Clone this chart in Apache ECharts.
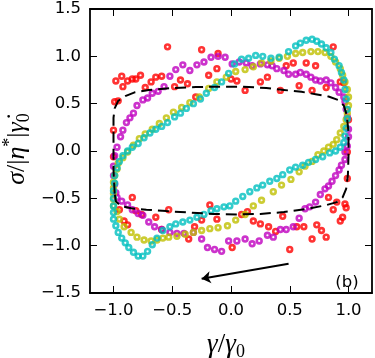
<!DOCTYPE html>
<html>
<head>
<meta charset="utf-8">
<script src="https://cdn.jsdelivr.net/npm/echarts@6/dist/echarts.min.js"></script>
<style>
html, body { margin: 0; padding: 0; background: #fff; }
#chart { width: 375px; height: 358px; }
</style>
</head>
<body>
<div id="chart"></div>
<script>
// tick labels
var xTicks = [-1.0, -0.5, 0.0, 0.5, 1.0];
var yTicks = [-1.5, -1.0, -0.5, 0.0, 0.5, 1.0, 1.5];

// red points (noisy loop)
var redPts = [
  [-1.0,-0.06],[-1.0,0.22],[-0.99,0.52],[-0.96,0.53],[-0.98,0.74],[-0.93,0.79],[-0.92,0.68],[-0.88,0.74],
  [-0.84,0.76],[-0.81,0.76],[-0.77,0.80],[-0.73,0.67],[-0.68,0.73],[-0.64,0.78],[-0.59,0.79],[-0.54,1.10],
  [-0.48,0.68],[-0.43,0.75],[-0.37,0.71],[-0.30,0.57],[-0.25,1.07],[-0.19,0.80],[-0.12,0.87],[-0.11,1.03],
  [0.0,0.76],[0.05,0.74],[0.12,0.64],[0.25,0.73],[0.31,0.78],[0.42,0.64],[0.47,0.90],[0.53,0.93],
  [0.58,0.69],[0.64,0.93],[0.69,0.64],[0.72,0.90],[0.81,0.67],[0.87,1.10],[0.93,0.73],[0.96,0.72],
  [1.0,0.33],[0.99,-0.01],[0.99,-0.29],[0.98,-0.60],[0.97,-0.56],[0.95,-0.70],[0.93,-0.74],[0.90,-0.54],
  [0.87,-0.62],[0.83,-0.49],[0.81,-0.91],[0.77,-0.84],[0.73,-0.78],[0.69,-0.93],[0.62,-0.80],[0.56,-0.80],
  [0.50,-1.04],[0.44,-0.69],[0.38,-0.85],[0.32,-0.80],[0.25,-0.77],[0.19,-0.74],[0.14,-0.64],[0.09,-0.67],
  [0.01,-1.02],[-0.12,-0.72],[-0.18,-0.57],[-0.25,-0.73],[-0.31,-0.80],[-0.36,-0.93],[-0.53,-0.62],[-0.59,-0.83],
  [-0.64,-0.70],[-0.76,-0.67],[-0.81,-0.63],[-0.84,-0.49],[-0.88,-0.78],[-0.91,-0.74],[-0.95,-0.62]
];

// magenta points
var magentaPts = [
  [-0.99,-0.05],[-0.97,0.04],[-0.94,0.15],[-0.92,0.22],[-0.89,0.30],[-0.86,0.35],[-0.83,0.40],[-0.80,0.48],
  [-0.75,0.54],[-0.71,0.56],[-0.67,0.61],[-0.62,0.63],[-0.57,0.68],[-0.52,0.79],[-0.47,0.86],[-0.41,0.91],
  [-0.35,0.85],[-0.29,0.91],[-0.23,0.94],[-0.17,0.99],[-0.11,1.00],[-0.05,0.99],[0.01,0.92],[0.07,0.94],
  [0.13,0.93],[0.18,0.90],[0.25,0.92],[0.31,0.91],[0.35,0.90],[0.39,0.87],[0.45,0.85],[0.49,0.81],
  [0.55,0.81],[0.59,0.83],[0.64,0.81],[0.68,0.78],[0.72,0.75],[0.76,0.74],[0.81,0.75],[0.85,0.72],
  [0.89,0.67],[0.92,0.62],[0.96,0.57],[0.97,0.52],[0.98,0.44],[0.99,0.36],[1.0,0.23],[1.0,0.15],
  [0.99,0.05],[0.97,-0.01],[0.97,-0.09],[0.94,-0.15],[0.92,-0.20],[0.89,-0.26],[0.86,-0.32],[0.83,-0.37],
  [0.80,-0.40],[0.76,-0.46],[0.72,-0.54],[0.67,-0.59],[0.63,-0.61],[0.58,-0.71],[0.53,-0.80],[0.47,-0.83],
  [0.42,-0.83],[0.36,-0.91],[0.31,-0.89],[0.24,-0.95],[0.18,-0.98],[0.12,-0.93],[0.05,-0.95],[-0.02,-0.95],
  [-0.08,-1.06],[-0.14,-1.04],[-0.20,-1.02],[-0.25,-0.93],[-0.32,-0.86],[-0.40,-0.87],[-0.46,-0.87],[-0.52,-0.86],
  [-0.59,-0.83],[-0.65,-0.80],[-0.70,-0.75],[-0.75,-0.68],[-0.79,-0.66],[-0.84,-0.62],[-0.88,-0.57],[-0.93,-0.53],
  [-0.97,-0.49],[-0.98,-0.44],[-0.99,-0.35],[-1.0,-0.26],[-1.0,-0.16]
];

// cyan points
var cyanPts = [
  [-1.0,-0.72],[-1.0,-0.65],[-1.0,-0.58],[-1.0,-0.50],[-1.0,-0.42],[-0.99,-0.34],[-0.99,-0.26],[-0.97,-0.18],
  [-0.95,-0.11],[-0.92,-0.05],[-0.88,0.0],[-0.84,0.04],[-0.79,0.08],[-0.74,0.14],[-0.69,0.19],[-0.64,0.23],
  [-0.59,0.26],[-0.54,0.30],[-0.48,0.36],[-0.43,0.40],[-0.38,0.45],[-0.32,0.50],[-0.26,0.55],[-0.21,0.61],
  [-0.14,0.67],[-0.08,0.73],[-0.02,0.82],[0.03,0.92],[0.09,0.97],[0.15,0.98],[0.21,1.01],[0.27,1.00],
  [0.34,0.98],[0.41,0.99],[0.49,1.05],[0.55,1.11],[0.59,1.14],[0.64,1.17],[0.69,1.18],[0.73,1.16],
  [0.77,1.13],[0.81,1.09],[0.85,1.04],[0.88,0.97],[0.92,0.90],[0.94,0.83],[0.96,0.75],[0.97,0.65],
  [0.98,0.55],[0.99,0.44],[0.99,0.34],[0.98,0.24],[0.97,0.16],[0.96,0.09],[0.93,0.04],[0.89,0.0],
  [0.84,-0.02],[0.78,-0.06],[0.72,-0.09],[0.66,-0.12],[0.61,-0.15],[0.55,-0.17],[0.50,-0.20],[0.44,-0.25],
  [0.39,-0.29],[0.33,-0.32],[0.27,-0.36],[0.22,-0.39],[0.16,-0.43],[0.10,-0.48],[0.04,-0.53],[-0.01,-0.58],
  [-0.06,-0.59],[-0.12,-0.61],[-0.17,-0.63],[-0.23,-0.67],[-0.29,-0.70],[-0.35,-0.73],[-0.41,-0.75],[-0.47,-0.77],
  [-0.52,-0.80],[-0.58,-0.84],[-0.63,-0.92],[-0.67,-0.99],[-0.71,-1.06],[-0.75,-1.11],[-0.79,-1.11],[-0.83,-1.07],
  [-0.87,-1.02],[-0.90,-0.97],[-0.93,-0.92],[-0.96,-0.86],[-0.98,-0.79]
];

// yellow points
var yellowPts = [
  [-1.0,-0.33],[-0.99,-0.26],[-0.97,-0.19],[-0.96,-0.13],[-0.92,-0.07],[-0.88,-0.01],[-0.83,0.06],[-0.78,0.13],
  [-0.73,0.18],[-0.67,0.23],[-0.61,0.29],[-0.55,0.35],[-0.49,0.41],[-0.42,0.46],[-0.35,0.51],[-0.27,0.57],
  [-0.19,0.66],[-0.12,0.73],[-0.04,0.78],[0.04,0.84],[0.12,0.86],[0.19,0.89],[0.26,0.93],[0.34,0.95],
  [0.41,0.98],[0.48,1.00],[0.55,1.03],[0.61,1.04],[0.68,1.05],[0.74,1.05],[0.80,1.04],[0.85,1.00],
  [0.89,0.94],[0.93,0.87],[0.95,0.80],[0.97,0.73],[0.99,0.65],[1.0,0.57],[1.0,0.48],[0.99,0.40],
  [0.98,0.33],[0.96,0.26],[0.93,0.19],[0.90,0.12],[0.87,0.07],[0.83,0.04],[0.79,0.0],[0.74,-0.04],
  [0.69,-0.11],[0.63,-0.16],[0.58,-0.22],[0.51,-0.30],[0.43,-0.36],[0.36,-0.43],[0.26,-0.52],[0.19,-0.58],
  [0.12,-0.67],[0.04,-0.73],[-0.03,-0.79],[-0.11,-0.81],[-0.18,-0.82],[-0.25,-0.84],[-0.32,-0.86],[-0.39,-0.88],
  [-0.46,-0.90],[-0.53,-0.91],[-0.58,-0.92],[-0.63,-0.94],[-0.68,-0.95],[-0.74,-0.94],[-0.80,-0.91],[-0.85,-0.86],
  [-0.91,-0.80],[-0.95,-0.72],[-0.97,-0.64],[-1.0,-0.58],[-1.0,-0.51],[-1.0,-0.45],[-1.0,-0.39]
];

// dashed reference loop
var dashPts = [
  [-0.99,-0.45],[-1.0,-0.2],[-1.0,0.1],[-1.0,0.35],[-0.99,0.45],[-0.96,0.53],[-0.9,0.58],[-0.82,0.62],
  [-0.7,0.645],[-0.5,0.665],[-0.3,0.675],[-0.1,0.68],[0.1,0.68],[0.3,0.665],[0.45,0.645],[0.6,0.625],
  [0.72,0.60],[0.83,0.575],[0.91,0.54],[0.96,0.48],[0.985,0.38],[1.0,0.2],[1.0,-0.05],[0.995,-0.25],
  [0.98,-0.4],[0.95,-0.49],[0.9,-0.54],[0.8,-0.575],[0.65,-0.61],[0.45,-0.645],[0.25,-0.665],[0.05,-0.67],
  [-0.15,-0.665],[-0.35,-0.65],[-0.55,-0.635],[-0.72,-0.62],[-0.85,-0.605],[-0.94,-0.58],[-0.98,-0.53],[-0.99,-0.45]
];

// arrow: start, end
var arrowPts = [[0.49,-1.19],[-0.25,-1.35]];

function fmt(v) {
  return v.toFixed(1).replace('-', '\u2212');
}

function markerSeries(pts, col) {
  return {
    type: 'scatter',
    data: pts,
    symbol: 'circle',
    symbolSize: 4.8,
    itemStyle: { color: 'transparent', borderColor: col, borderWidth: 2.6 }
  };
}

var chart = echarts.init(document.getElementById('chart'));
var frameLine = { show: true, onZero: false, lineStyle: { color: '#000', width: 1.8 } };
var labelStyle = { fontFamily: 'DejaVu Sans', fontSize: 16.5, color: '#000' };
var tickStyle = { inside: true, length: 7, lineStyle: { color: '#000', width: 1 } };

chart.setOption({
  animation: false,
  grid: { left: 90, right: 3, top: 9, bottom: 65 },
  xAxis: [{
    type: 'value', min: -1.2, max: 1.2, position: 'bottom',
    axisLine: frameLine,
    axisTick: Object.assign({ customValues: xTicks }, tickStyle),
    axisLabel: Object.assign({ customValues: xTicks, formatter: fmt, margin: 9 }, labelStyle),
    splitLine: { show: false }
  }, {
    type: 'value', min: -1.2, max: 1.2, position: 'top',
    axisLine: frameLine,
    axisTick: Object.assign({ customValues: xTicks }, tickStyle),
    axisLabel: { show: false },
    splitLine: { show: false }
  }],
  yAxis: [{
    type: 'value', min: -1.5, max: 1.5, position: 'left',
    axisLine: frameLine,
    axisTick: Object.assign({ customValues: yTicks }, tickStyle),
    axisLabel: Object.assign({ customValues: yTicks, formatter: fmt, margin: 9 }, labelStyle),
    splitLine: { show: false }
  }, {
    type: 'value', min: -1.5, max: 1.5, position: 'right',
    axisLine: frameLine,
    axisTick: Object.assign({ customValues: yTicks }, tickStyle),
    axisLabel: { show: false },
    splitLine: { show: false }
  }],
  graphic: [{
    type: 'text', x: 226, y: 345,
    style: {
      text: '{i|γ}{n|/}{i|γ}{s|0}',
      align: 'center', verticalAlign: 'middle',
      rich: {
        i: { fontFamily: 'Liberation Serif', fontStyle: 'italic', fontSize: 27, fill: '#000', verticalAlign: 'middle' },
        n: { fontFamily: 'Liberation Serif', fontSize: 27, fill: '#000', verticalAlign: 'middle' },
        s: { fontFamily: 'Liberation Serif', fontSize: 18, fill: '#000', verticalAlign: 'bottom', lineHeight: 32 }
      }
    }
  }, {
    type: 'text', x: 17, y: 149, rotation: Math.PI / 2,
    style: {
      text: '{i|σ}{n|/|}{i|η}{p|*}{n||}{i|γ̇}{s|0}',
      align: 'center', verticalAlign: 'middle',
      rich: {
        i: { fontFamily: 'Liberation Serif', fontStyle: 'italic', fontSize: 26, fill: '#000', verticalAlign: 'middle' },
        n: { fontFamily: 'Liberation Serif', fontSize: 26, fill: '#000', verticalAlign: 'middle' },
        p: { fontFamily: 'Liberation Serif', fontSize: 18, fill: '#000', verticalAlign: 'top', lineHeight: 32 },
        s: { fontFamily: 'Liberation Serif', fontSize: 18, fill: '#000', verticalAlign: 'bottom', lineHeight: 32 }
      }
    }
  }, {
    type: 'text', x: 347, y: 283,
    style: { text: '(b)', font: '16.5px "DejaVu Sans"', fill: '#000', align: 'center', verticalAlign: 'middle' }
  }],
  series: [
    markerSeries(redPts, '#ff0000'),
    markerSeries(magentaPts, '#bf00bf'),
    markerSeries(yellowPts, '#bfbf00'),
    markerSeries(cyanPts, '#00bfbf'),
    {
      type: 'line', data: dashPts, showSymbol: false, symbol: 'none',
      lineStyle: { color: '#000', width: 2, type: [11, 6] }, z: 3
    },
    {
      type: 'lines', coordinateSystem: 'cartesian2d',
      data: [{ coords: arrowPts }],
      symbol: ['none', 'arrow'], symbolSize: 9,
      lineStyle: { color: '#000', width: 2, opacity: 1 }
    }
  ]
});
</script>
</body>
</html>
